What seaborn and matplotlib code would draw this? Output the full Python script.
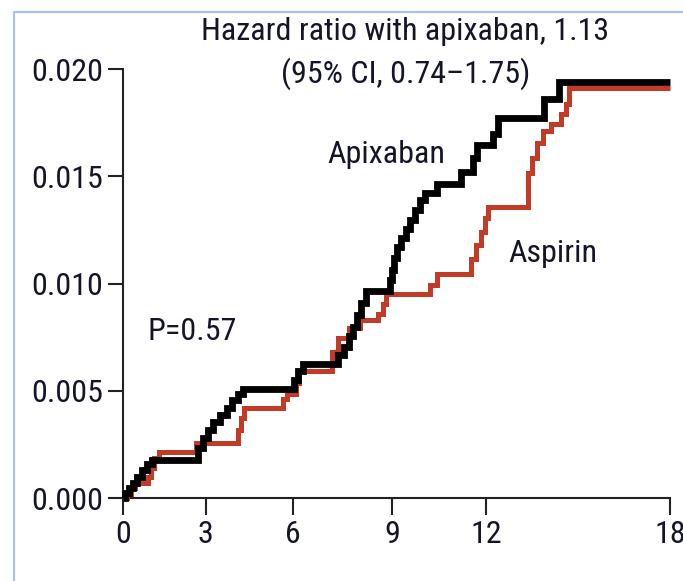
import numpy as np
import pandas as pd
import matplotlib
matplotlib.use("Agg")
import matplotlib.pyplot as plt
import seaborn as sns
from matplotlib.lines import Line2D
from matplotlib import font_manager as fm

# Cumulative incidence by month of follow-up (Kaplan-Meier style steps)
apixaban_months = [0.00, 0.07, 0.21, 0.35, 0.50, 0.68, 0.86, 1.04, 2.72, 2.90,
                   3.08, 3.25, 3.49, 3.73, 3.90, 4.11, 4.28, 6.02, 6.14, 6.29,
                   7.36, 7.54, 7.69, 7.81, 7.93, 8.05, 8.20, 8.93, 8.99, 9.05,
                   9.15, 9.28, 9.44, 9.56, 9.72, 9.88, 10.04, 10.42, 11.19, 11.57,
                   11.70, 12.22, 12.38, 13.89, 14.37, 18.00]
apixaban_rate = [0.0, 0.00023, 0.00047, 0.00070, 0.00098, 0.00131, 0.00159, 0.00177, 0.00233, 0.00280,
                 0.00317, 0.00354, 0.00387, 0.00420, 0.00457, 0.00485, 0.00508, 0.00550, 0.00592, 0.00625,
                 0.00667, 0.00704, 0.00755, 0.00797, 0.00853, 0.00909, 0.00965, 0.01016, 0.01063, 0.01119,
                 0.01170, 0.01212, 0.01254, 0.01296, 0.01343, 0.01389, 0.01422, 0.01464, 0.01520, 0.01585,
                 0.01646, 0.01697, 0.01772, 0.01860, 0.01939, 0.01939]

aspirin_months = [0.00, 0.14, 0.28, 0.43, 0.90, 1.01, 1.12, 1.30, 2.65, 4.11,
                  4.21, 4.31, 5.65, 5.79, 6.08, 6.17, 7.17, 7.36, 7.69, 8.02,
                  8.56, 8.71, 8.81, 10.19, 10.42, 11.50, 11.66, 11.82, 11.95, 12.06,
                  13.36, 13.49, 13.65, 13.85, 14.11, 14.44, 14.60, 14.70, 18.00]
aspirin_rate = [0.0, 0.00019, 0.00047, 0.00070, 0.00098, 0.00140, 0.00186, 0.00214, 0.00256, 0.00317,
                0.00373, 0.00420, 0.00462, 0.00485, 0.00536, 0.00592, 0.00681, 0.00746, 0.00793, 0.00830,
                0.00858, 0.00904, 0.00951, 0.00993, 0.01044, 0.01114, 0.01180, 0.01240, 0.01305, 0.01357,
                0.01515, 0.01585, 0.01655, 0.01711, 0.01744, 0.01790, 0.01837, 0.01911, 0.01911]

month_ticks = [0, 3, 6, 9, 12, 18]
month_labels = ["0", "3", "6", "9", "12", "18"]
rate_ticks = [0.000, 0.005, 0.010, 0.015, 0.020]
rate_labels = ["0.000", "0.005", "0.010", "0.015", "0.020"]

title_lines = ["Hazard ratio with apixaban, 1.13", "(95% CI, 0.74\u20131.75)"]
p_text = "P=0.57"


def pick_font():
    """Prefer a narrow sans; otherwise fall back to Liberation Sans, a bit smaller."""
    entries = fm.fontManager.ttflist
    names = {f.name for f in entries}
    for fam in ("Liberation Sans Narrow", "Roboto Condensed", "Open Sans Condensed",
                "Noto Sans Condensed", "DejaVu Sans Condensed"):
        if fam in names:
            return fam, "normal", 23
    for f in entries:
        if f.style == "normal" and f.weight in (400, "normal", "regular") and \
                f.stretch in ("condensed", "semi-condensed"):
            return f.name, f.stretch, 23 if f.stretch == "condensed" else 21.5
    return "Liberation Sans", "normal", 20


FAMILY, STRETCH, FS = pick_font()

# ---- style -----------------------------------------------------------------
sns.set_style("ticks")
plt.rcParams["font.family"] = [FAMILY, "DejaVu Sans"]
plt.rcParams["font.stretch"] = STRETCH
TEXT = "#15152a"
RED = "#c23b27"

W, H = 683, 581
fig = plt.figure(figsize=(W / 100, H / 100), dpi=100)
fig.patch.set_facecolor("white")

# axes box in pixels: left, right, bottom, top
x0, x1, y0, y1 = 123.3, 670.0, 498.0, 69.0
ax = fig.add_axes([x0 / W, (H - y0) / H, (x1 - x0) / W, (y0 - y1) / H])
ax.set_facecolor("white")

# slightly uneven month spacing of the printed time axis
knot_m = np.array([-18.0, 0, 3, 6, 9, 12, 18, 36.0])
knot_u = np.array([-546.7, 0, 82.4, 170.0, 269.0, 363.0, 546.7, 1093.4])
ax.set_xscale("function",
              functions=(lambda m: np.interp(m, knot_m, knot_u),
                         lambda u: np.interp(u, knot_u, knot_m)))

asp = pd.DataFrame({"month": aspirin_months, "rate": aspirin_rate})
api = pd.DataFrame({"month": apixaban_months, "rate": apixaban_rate})

sns.lineplot(data=asp, x="month", y="rate", ax=ax, color=RED, linewidth=3.6,
             drawstyle="steps-post", estimator=None, sort=False, legend=False,
             solid_joinstyle="miter", solid_capstyle="butt", clip_on=False, zorder=3)
sns.lineplot(data=api, x="month", y="rate", ax=ax, color="black", linewidth=4.9,
             drawstyle="steps-post", estimator=None, sort=False, legend=False,
             solid_joinstyle="miter", solid_capstyle="butt", clip_on=False, zorder=4)

ax.set_xlim(0, 18)
ax.set_ylim(0, 0.020)
ax.set_xticks(month_ticks)
ax.set_xticklabels(month_labels)
ax.set_yticks(rate_ticks)
ax.set_yticklabels(rate_labels)
ax.set_xlabel("")
ax.set_ylabel("")

sns.despine(ax=ax)
for s in ("left", "bottom"):
    ax.spines[s].set_linewidth(1.5)
    ax.spines[s].set_color("#222222")
ax.tick_params(axis="x", length=12.5, width=1.5, pad=3, labelsize=FS,
               colors="#222222", labelcolor=TEXT)
ax.tick_params(axis="y", length=11, width=1.5, pad=3.6, labelsize=FS,
               colors="#222222", labelcolor=TEXT)
for lab in ax.get_xticklabels() + ax.get_yticklabels():
    lab.set_fontstretch(STRETCH)


# annotations
def ftext(px, py, s, **kw):
    fig.text(px / W, 1 - py / H, s, fontsize=FS, color=TEXT, va="baseline",
             fontstretch=STRETCH, **kw)


ftext(405, 40, title_lines[0], ha="center")
ftext(406, 83, title_lines[1], ha="center")
ftext(327, 163, "Apixaban", ha="left")
ftext(508, 262, "Aspirin", ha="left")
ftext(147, 340, p_text, ha="left")

# thin light-blue frame along the left and top edges
frame = "#a7c3e6"
fig.add_artist(Line2D([13.5 / W, 13.5 / W], [0, 1 - 12 / H], transform=fig.transFigure,
                      color=frame, linewidth=1.6))
fig.add_artist(Line2D([13.5 / W, 1], [1 - 12 / H, 1 - 12 / H], transform=fig.transFigure,
                      color=frame, linewidth=1.6))

fig.savefig("out.png", dpi=100, facecolor="white")
